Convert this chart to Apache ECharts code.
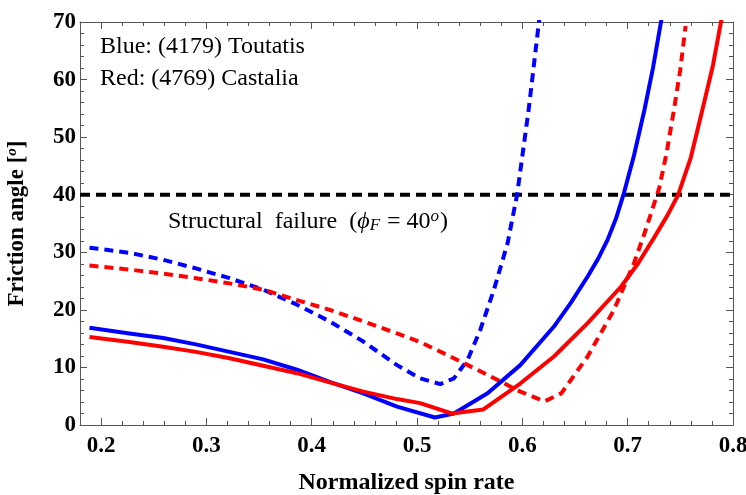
<!DOCTYPE html>
<html>
<head>
<meta charset="utf-8">
<script src="https://cdn.jsdelivr.net/npm/echarts@6/dist/echarts.min.js"></script>
<style>
  html, body { margin: 0; padding: 0; background: #fff; }
  #chart { width: 746px; height: 495px; }
</style>
</head>
<body>
<div id="chart"></div>
<script>
// Toutatis (blue) and Castalia (red), solid and dashed curves
const blueSolidX = [0.189, 0.227, 0.259, 0.290, 0.322, 0.354, 0.386, 0.417, 0.449, 0.481, 0.517, 0.535, 0.567, 0.598, 0.630, 0.646, 0.662, 0.672, 0.681, 0.689, 0.696, 0.706, 0.716, 0.724, 0.732]
const blueSolidY = [16.9, 15.9, 15.1, 14.0, 12.7, 11.4, 9.6, 7.5, 5.5, 3.2, 1.3, 2.0, 5.5, 10.4, 17.1, 21.2, 25.8, 28.9, 32.2, 35.9, 40.0, 46.8, 54.8, 62.0, 70.4]

const redSolidX = [0.189, 0.227, 0.259, 0.290, 0.322, 0.354, 0.386, 0.417, 0.449, 0.481, 0.503, 0.533, 0.563, 0.598, 0.630, 0.662, 0.694, 0.710, 0.726, 0.738, 0.748, 0.760, 0.771, 0.781, 0.789]
const redSolidY = [15.3, 14.4, 13.6, 12.7, 11.6, 10.3, 9.0, 7.4, 5.8, 4.5, 3.8, 2.0, 2.7, 7.2, 11.9, 17.7, 24.1, 28.1, 32.8, 36.5, 40.0, 46.5, 54.8, 62.5, 70.4]

const blueDashX = [0.189, 0.227, 0.259, 0.290, 0.322, 0.354, 0.386, 0.417, 0.449, 0.481, 0.503, 0.522, 0.535, 0.548, 0.560, 0.573, 0.586, 0.595, 0.606, 0.616]
const blueDashY = [30.8, 29.9, 28.7, 27.2, 25.5, 23.5, 20.9, 18.0, 14.5, 10.4, 8.1, 7.1, 8.1, 11.3, 16.5, 23.5, 31.6, 40.0, 54.8, 70.4]

const redDashX = [0.189, 0.227, 0.259, 0.290, 0.322, 0.354, 0.386, 0.417, 0.449, 0.481, 0.503, 0.535, 0.567, 0.598, 0.621, 0.637, 0.662, 0.687, 0.706, 0.716, 0.724, 0.730, 0.737, 0.744, 0.750, 0.755]
const redDashY = [27.7, 27.0, 26.3, 25.5, 24.6, 23.5, 21.7, 20.0, 18.0, 15.9, 14.4, 11.6, 8.7, 5.8, 4.1, 5.5, 11.9, 20.0, 28.1, 33.3, 37.8, 41.2, 47.3, 54.8, 61.8, 69.3]

const failureAngle = 40
const xMajorTicks = [0.2, 0.3, 0.4, 0.5, 0.6, 0.7, 0.8]

const zip = (xs, ys) => xs.map((x, i) => [x, ys[i]])

const axisColor = '#555'
const serif = 'Liberation Serif'
const blue = '#0000ff'
const red = '#ff0000'

const myChart = echarts.init(document.getElementById('chart'))

function xAxisBase(position, labels) {
  return {
    type: 'value',
    position: position,
    min: 0.18,
    max: 0.8,
    interval: 0.02,
    axisLine: { show: true, lineStyle: { color: axisColor, width: 1 } },
    axisTick: { show: true, inside: true, length: 4, lineStyle: { color: axisColor } },
    splitLine: { show: false },
    axisLabel: labels ? {
      show: true,
      margin: 10,
      color: '#000',
      fontFamily: serif,
      fontWeight: 'bold',
      fontSize: 23,
      formatter(v) {
        return Math.abs(v * 10 - Math.round(v * 10)) < 1e-6 ? v.toFixed(1) : ''
      }
    } : { show: false }
  }
}

function xAxisMajor(position) {
  return {
    type: 'value',
    position: position,
    min: 0.18,
    max: 0.8,
    axisLine: { show: false },
    axisTick: { show: true, inside: true, length: 7, customValues: xMajorTicks, lineStyle: { color: axisColor } },
    axisLabel: { show: false },
    splitLine: { show: false }
  }
}

function yAxisBase(position, labels) {
  return {
    type: 'value',
    position: position,
    min: 0,
    max: 70,
    interval: 10,
    axisLine: { show: true, lineStyle: { color: axisColor, width: 1 } },
    axisTick: { show: true, inside: true, length: 7, lineStyle: { color: axisColor } },
    minorTick: { show: true, splitNumber: 5, length: 4, lineStyle: { color: axisColor } },
    splitLine: { show: false },
    axisLabel: labels ? {
      show: true,
      margin: 4,
      color: '#000',
      fontFamily: serif,
      fontWeight: 'bold',
      fontSize: 23
    } : { show: false }
  }
}

const xAxes = [
  xAxisBase('bottom', true),
  xAxisMajor('bottom'),
  xAxisBase('top', false),
  xAxisMajor('top')
]
xAxes[0].name = 'Normalized spin rate'
xAxes[0].nameLocation = 'middle'
xAxes[0].nameGap = 46
xAxes[0].nameTextStyle = { fontFamily: serif, fontWeight: 'bold', fontSize: 24, color: '#000' }

const yAxes = [yAxisBase('left', true), yAxisBase('right', false)]
yAxes[0].name = 'Friction angle [{sup|o}]'
yAxes[0].nameLocation = 'middle'
yAxes[0].nameGap = 50
yAxes[0].nameTextStyle = {
  fontFamily: serif, fontWeight: 'bold', fontSize: 23, color: '#000',
  rich: {
    sup: { fontFamily: serif, fontStyle: 'italic', fontWeight: 'bold', fontSize: 15, color: '#000', padding: [0, 0, 10, 0] }
  }
}

function curve(name, xs, ys, color, dashed) {
  return {
    name: name,
    type: 'line',
    data: zip(xs, ys),
    showSymbol: false,
    smooth: false,
    lineStyle: { color: color, width: 4, type: dashed ? [9, 6] : 'solid', join: 'round' },
    z: 3
  }
}

const option = {
  animation: false,
  backgroundColor: '#fff',
  grid: { left: 80, right: 13, top: 22, bottom: 70, containLabel: false, outerBoundsMode: 'none' },
  xAxis: xAxes,
  yAxis: yAxes,
  graphic: [
    {
      type: 'text', left: 100, top: 35,
      style: { text: 'Blue: (4179) Toutatis', font: '24px "Liberation Serif"', fill: '#000' }
    },
    {
      type: 'text', left: 100, top: 67,
      style: { text: 'Red: (4769) Castalia', font: '24px "Liberation Serif"', fill: '#000' }
    },
    {
      type: 'text', left: 168, top: 208,
      style: {
        text: '{t|Structural  failure  (}{i|ϕ}{sub|F}{t| = 40}{sup|o}{t|)}',
        rich: {
          t: { fontFamily: serif, fontSize: 24, fill: '#000' },
          i: { fontFamily: serif, fontStyle: 'italic', fontSize: 24, fill: '#000' },
          sub: { fontFamily: serif, fontStyle: 'italic', fontSize: 17, fill: '#000', padding: [9, 1, 0, 0] },
          sup: { fontFamily: serif, fontStyle: 'italic', fontSize: 17, fill: '#000', padding: [0, 1, 10, 0] }
        }
      }
    }
  ],
  series: [
    {
      name: 'Structural failure',
      type: 'line',
      data: [[0.18, failureAngle], [0.8, failureAngle]],
      showSymbol: false,
      lineStyle: { color: '#000', width: 4, type: [10, 6] },
      z: 2
    },
    curve('Toutatis dashed', blueDashX, blueDashY, blue, true),
    curve('Castalia dashed', redDashX, redDashY, red, true),
    curve('Toutatis', blueSolidX, blueSolidY, blue, false),
    curve('Castalia', redSolidX, redSolidY, red, false)
  ]
}
myChart.setOption(option)
</script>
</body>
</html>
